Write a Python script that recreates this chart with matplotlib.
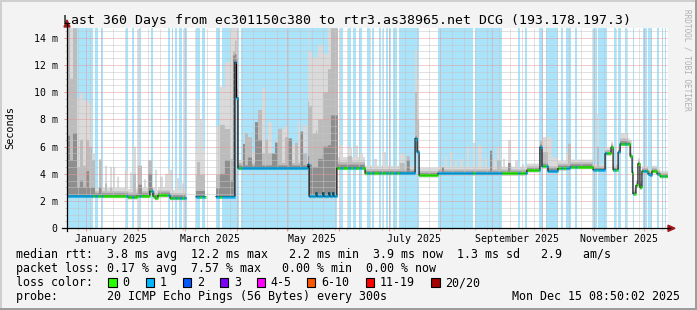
import datetime as dt
import numpy as np
import matplotlib
matplotlib.use("Agg")
import matplotlib.pyplot as plt
from matplotlib.collections import LineCollection
from matplotlib.lines import Line2D
from matplotlib.patches import Rectangle, Polygon
from matplotlib import transforms as mtrans

W, H, DPI = 697, 310, 100
MONO = "DejaVu Sans Mono"

# ---------------- data ----------------
end_time = dt.datetime(2025, 12, 15, 8, 50, 2)
span_days = 360
start_time = end_time - dt.timedelta(days=span_days)

# median rtt (ms) as a step series: day offset from start -> value (nan = no data)
median_day = [0.0, 36.5, 42.0, 49.7, 51.5, 52.7, 54.5, 61.7, 71.3, 77.3, 83.0, 89.3,
              100.6, 101.5, 102.4, 144.4, 145.0, 149.2, 149.8, 153.3, 153.9, 156.9,
              157.5, 159.3, 159.9, 161.7, 178.5, 208.5, 209.7, 210.9, 222.2, 275.5,
              283.3, 284.5, 288.1, 294.1, 301.3, 315.1, 322.3, 325.9, 327.1, 330.1,
              331.3, 337.3, 338.5, 339.0, 340.8, 342.0, 343.2, 344.4, 348.0, 349.2,
              350.4, 353.4, 355.2]
median_ms = [2.37, 2.28, 2.37, 2.72, 2.36, 2.22, 2.42, 2.22, np.nan, 2.32, np.nan, 2.33,
             12.2, 9.6, 4.42, 4.7, 2.35, 2.62, 2.35, 2.62, 2.35, 2.62,
             2.35, 2.62, 2.35, 4.43, 4.05, 6.6, 5.6, 3.9, 4.03, 4.26,
             5.96, 4.55, 4.2, 4.4, 4.5, 4.3, 5.5, 5.96, 4.3, 5.6,
             6.2, 5.3, 4.1, 2.55, 3.15, 4.75, 3.0, 4.2, 4.0, 3.9,
             4.2, 4.0, 3.83]

# periods with one lost packet (loss shown as background)
loss_start = [0.0, 16.5, 20.1, 35.3, 38.9, 43.1, 50.3, 60.5, 62.6, 64.7, 66.8, 70.1,
              77.3, 80.9, 89.3, 93.1, 104.5, 163.5, 168.3, 171.6, 174.9, 179.7, 182.4,
              186.6, 189.0, 190.8, 192.6, 195.0, 198.6, 222.5, 244.4, 270.2, 274.4,
              283.0, 287.2, 295.9, 298.9, 304.3, 315.1, 318.3, 327.7, 330.2, 334.2,
              338.9, 345.2, 348.2, 353.3, 356.3, 358.0]
loss_end = [15.6, 18.3, 21.6, 36.8, 40.1, 44.6, 51.8, 61.7, 63.5, 65.9, 68.6, 71.6,
            79.7, 82.7, 91.6, 103.0, 161.7, 165.3, 170.1, 173.1, 177.0, 181.2, 183.6,
            187.8, 189.9, 192.0, 194.1, 197.4, 210.6, 243.2, 260.6, 271.4, 275.6,
            285.4, 294.4, 297.4, 301.9, 305.5, 317.3, 323.2, 328.9, 331.8, 335.4,
            339.9, 347.3, 350.7, 354.6, 357.2, 358.9]

# typical smoke spread above the median (ms) per period
smoke_day = [0.0, 16.8, 77.3, 89.3, 102.4, 144.4, 162.3, 178.5, 222.2, 283.3, 315.1]
smoke_light_off = [0.8, 0.6, 3.4, 5.2, 0.6, 10.2, 0.8, 0.55, 0.5, 0.55, 0.4]
smoke_mid_off = [0.5, 0.35, 1.6, 1.6, 0.4, 4.6, 0.45, 0.3, 0.3, 0.35, 0.25]
smoke_dark_off = [0.3, 0.2, 0.4, 0.6, 0.2, 0.6, 0.25, 0.15, 0.15, 0.2, 0.12]

# smoke spikes: (start day, end day, light top, mid top, dark top) in ms
smoke_spikes = [
    (0.0, 1.8, 14.7, 14.7, 6.8), (1.8, 3.6, 14.7, 11.0, 5.0), (3.6, 6.0, 14.7, 14.7, 7.0),
    (6.0, 7.8, 9.6, 4.5, 3.0), (7.8, 9.6, 9.9, 6.5, 3.5), (9.6, 11.4, 9.4, 4.6, 3.0),
    (11.4, 13.2, 9.4, 6.5, 4.2), (13.2, 15.0, 9.2, 6.0, 3.0), (15.0, 16.8, 5.5, 5.0, 3.0),
    (19.2, 21.0, 5.1, 5.0, 3.0), (22.8, 24.0, 4.6, 3.3, 0), (25.8, 27.0, 4.5, 3.0, 0),
    (27.6, 28.8, 4.5, 0, 0), (30.0, 31.2, 3.8, 0, 0), (34.7, 36.5, 4.3, 0, 0),
    (37.7, 38.9, 4.1, 0, 0), (39.5, 41.3, 6.0, 4.0, 0), (42.5, 44.9, 4.6, 4.6, 3.2),
    (46.1, 47.3, 3.6, 0, 0), (48.5, 50.9, 5.0, 5.0, 4.0), (52.7, 53.9, 4.3, 0, 0),
    (55.7, 57.5, 3.8, 0, 0), (58.7, 60.5, 4.0, 0, 0), (60.5, 62.9, 4.3, 0, 0),
    (65.3, 67.1, 3.7, 0, 0), (68.3, 70.1, 3.3, 0, 0),
    (77.9, 79.7, 9.4, 4.9, 0), (79.7, 81.5, 8.0, 0, 0),
    (91.6, 94.6, 10.4, 7.6, 4.0), (94.6, 97.6, 12.2, 7.3, 5.0), (97.6, 99.4, 14.7, 5.1, 3.5),
    (99.4, 100.6, 14.7, 13.0, 12.7), (100.6, 102.4, 14.7, 12.5, 8.0),
    (105.4, 106.6, 6.2, 6.2, 6.2), (106.6, 108.4, 7.0, 7.0, 0), (108.4, 110.8, 6.7, 6.7, 5.2),
    (110.8, 112.6, 5.6, 0, 0), (112.6, 114.4, 7.8, 7.8, 7.8), (114.4, 116.8, 8.7, 8.7, 6.5),
    (116.8, 118.6, 10.3, 5.5, 0), (118.6, 120.4, 6.5, 6.5, 0), (120.4, 122.8, 7.8, 5.5, 0),
    (122.8, 124.6, 5.5, 5.5, 5.5), (124.6, 126.4, 6.5, 6.3, 6.3), (126.4, 128.8, 7.3, 7.3, 0),
    (128.8, 130.6, 7.3, 0, 0), (130.6, 132.4, 7.5, 6.7, 0), (132.4, 134.8, 6.6, 6.6, 6.6),
    (134.8, 136.6, 6.1, 0, 0), (136.6, 138.4, 6.3, 6.3, 0), (138.4, 139.6, 7.8, 0, 0),
    (139.6, 141.4, 7.1, 7.1, 7.1), (141.4, 143.8, 7.6, 5.5, 0),
    (144.4, 146.8, 13.0, 9.0, 4.7), (146.8, 150.4, 12.0, 6.0, 4.5), (150.4, 153.3, 13.5, 8.0, 5.1),
    (153.3, 156.3, 12.8, 10.0, 6.0), (156.3, 158.1, 14.7, 11.7, 6.1), (158.1, 159.9, 14.7, 14.7, 8.3),
    (159.9, 162.3, 14.7, 14.7, 8.3),
    (163.5, 165.3, 6.1, 0, 0), (168.3, 170.7, 5.9, 5.3, 0), (172.5, 174.3, 6.1, 0, 0),
    (175.5, 177.3, 5.5, 0, 0),
    (183.9, 185.7, 5.1, 0, 0), (189.3, 191.1, 5.6, 0, 0), (199.3, 202.3, 5.5, 4.8, 0),
    (203.5, 205.3, 5.3, 5.3, 5.0), (208.5, 209.7, 13.1, 10.0, 6.6), (209.7, 210.9, 11.0, 8.0, 5.5),
    (224.6, 225.8, 4.6, 4.5, 4.5), (226.4, 227.6, 5.3, 0, 0), (229.4, 231.2, 5.6, 0, 0),
    (232.4, 233.6, 5.0, 0, 0), (235.4, 237.2, 5.1, 0, 0), (239.6, 240.8, 6.0, 0, 0),
    (243.2, 244.4, 6.3, 0, 0), (246.2, 248.6, 6.1, 0, 0), (250.4, 251.6, 5.2, 0, 0),
    (253.4, 254.6, 5.7, 5.7, 5.7), (255.8, 257.0, 5.1, 0, 0), (257.6, 260.0, 6.0, 5.0, 0),
    (261.2, 262.4, 5.1, 0, 0), (264.2, 266.0, 6.5, 4.8, 4.8), (268.4, 270.2, 5.0, 0, 0),
    (272.6, 273.8, 4.7, 0, 0), (277.6, 279.4, 4.7, 0, 0),
    (283.3, 284.5, 6.5, 6.45, 6.0), (284.5, 288.1, 6.7, 5.6, 0), (288.1, 290.5, 6.7, 0, 0),
    (290.5, 294.1, 5.2, 0, 0), (298.9, 300.1, 5.5, 0, 0), (300.1, 301.9, 6.2, 6.2, 0),
    (317.5, 318.7, 8.4, 6.0, 0), (322.3, 325.9, 5.9, 0, 0), (325.9, 327.1, 6.3, 6.0, 0),
    (330.1, 331.3, 5.9, 0, 0), (331.3, 336.1, 7.0, 6.6, 6.4), (336.1, 338.5, 6.5, 0, 0),
    (342.0, 343.2, 5.0, 4.9, 0),
]

y_ticks = [0, 2, 4, 6, 8, 10, 12, 14]
y_tick_labels = ["0", "2 m", "4 m", "6 m", "8 m", "10 m", "12 m", "14 m"]
y_top = 14.7

month_label_text = ["January 2025", "March 2025", "May 2025", "July 2025",
                    "September 2025", "November 2025"]
month_label_dates = [dt.datetime(2025, 1, 16), dt.datetime(2025, 3, 16), dt.datetime(2025, 5, 16),
                     dt.datetime(2025, 7, 16), dt.datetime(2025, 9, 16), dt.datetime(2025, 11, 16)]

loss_legend_labels = ["0", "1", "2", "3", "4-5", "6-10", "11-19", "20/20"]
loss_legend_colors = ["#26ff00", "#00b8ff", "#0059ff", "#7e00ff", "#ff00ff", "#ff5500",
                      "#ff0000", "#a10000"]

title = "Last 360 Days from ec301150c380 to rtr3.as38965.net DCG (193.178.197.3)"
row_rtt = "median rtt:  3.8 ms avg  12.2 ms max   2.2 ms min  3.9 ms now  1.3 ms sd   2.9   am/s"
row_loss = "packet loss: 0.17 % avg  7.57 % max   0.00 % min  0.00 % now"
row_color = "loss color:"
row_probe = "probe:       20 ICMP Echo Pings (56 Bytes) every 300s"
stamp = "Mon Dec 15 08:50:02 2025"

# ---------------- styling ----------------
BG = "#f3f3f3"
BAND = "#a9e4fb"
C_LIGHT, C_MID, C_DARK = "#dadada", "#bcbcbc", "#8e8e8e"
GRID = "#c4c4c4"
MGRID = "#e39a9a"
ARROW = "#a01818"


def days_of(d):
    return (d - start_time).total_seconds() / 86400.0


def step_eval(xs, ys, t):
    idx = np.searchsorted(np.asarray(xs), t, side="right") - 1
    return np.asarray(ys, float)[np.clip(idx, 0, None)]


def px(x, y):
    return x / W, 1 - y / H


fig = plt.figure(figsize=(W / DPI, H / DPI), dpi=DPI, facecolor=BG)
ax = fig.add_axes([67 / W, (H - 228.3) / H, 601 / W, 200 / H])
ax.set_facecolor("white")
ax.set_xlim(0, span_days)
ax.set_ylim(0, y_top)
for s in ax.spines.values():
    s.set_visible(False)

# loss background bands
for s, e in zip(loss_start, loss_end):
    ax.axvspan(s, e, color=BAND, lw=0, zorder=0.5)

# evaluation grid
dt_step = 0.1
t = np.arange(0, span_days, dt_step)
tc = t + dt_step / 2
med = step_eval(median_day, median_ms, tc)
light = med + step_eval(smoke_day, smoke_light_off, tc)
mid = med + step_eval(smoke_day, smoke_mid_off, tc)
dark = med + step_eval(smoke_day, smoke_dark_off, tc)
for s, e, lt, mt, dk in smoke_spikes:
    sel = (tc >= s) & (tc < e)
    light[sel] = np.maximum(light[sel], lt)
    mid[sel] = np.maximum(mid[sel], mt)
    dark[sel] = np.maximum(dark[sel], dk)
lo = med - 0.15

tt = np.append(t, span_days)


def ext(a):
    return np.append(a, a[-1])


ax.fill_between(tt, ext(lo), ext(light), step="post", color=C_LIGHT, lw=0, zorder=1)
ax.fill_between(tt, ext(lo), ext(mid), step="post", color=C_MID, lw=0, zorder=1.1)
ax.fill_between(tt, ext(med - 0.1), ext(dark), step="post", color=C_DARK, lw=0, zorder=1.2)

# median line: black steps + loss coloured segments
ax.plot(tt, ext(med), drawstyle="steps-post", color="black", lw=0.8, zorder=3)
inband = np.zeros_like(tc, dtype=bool)
for s, e in zip(loss_start, loss_end):
    inband |= (tc >= s) & (tc < e)
valid = ~np.isnan(med)
segs = np.stack([np.column_stack([t, med]), np.column_stack([t + dt_step, med])], axis=1)[valid]
cols = np.where(inband, loss_legend_colors[1], loss_legend_colors[0])[valid]
ax.add_collection(LineCollection(segs, colors=cols, linewidths=2.0, capstyle="butt", zorder=4))

# grid: months (major), every 7 days from the start day (minor)
month_starts = []
d = dt.datetime(start_time.year, start_time.month, 1)
while d <= end_time:
    if d > start_time:
        month_starts.append(days_of(d))
    d = dt.datetime(d.year + (d.month == 12), d.month % 12 + 1, 1)
weeks = []
d = dt.datetime(start_time.year, start_time.month, start_time.day) + dt.timedelta(days=7)
while d <= end_time:
    weeks.append(days_of(d))
    d += dt.timedelta(days=7)

ax.set_xticks(month_starts)
ax.set_xticks(weeks, minor=True)
ax.set_yticks(y_ticks)
ax.set_yticks(np.arange(0, y_top, 0.5), minor=True)
ax.set_axisbelow(False)
dot = (0, (1, 1))
ax.grid(which="minor", color=GRID, linestyle=dot, lw=0.72)
ax.grid(which="major", color=MGRID, linestyle=dot, lw=0.72)
ax.set_xticklabels([])
ax.set_yticklabels(y_tick_labels, family=MONO, fontsize=7.14)
ax.tick_params(axis="x", which="major", length=2.2, width=0.72, color=MGRID, direction="out")
ax.tick_params(axis="x", which="minor", length=1.5, width=0.72, color=GRID, direction="out")
ax.tick_params(axis="y", which="major", length=2.2, width=0.72, color=MGRID, direction="out", pad=4.6)
ax.tick_params(axis="y", which="minor", length=1.5, width=0.72, color=GRID, direction="out")

lab_tr = mtrans.offset_copy(mtrans.blended_transform_factory(ax.transData, ax.transAxes),
                            fig=fig, x=0, y=-13.2, units="dots")
for txt, dd in zip(month_label_text, month_label_dates):
    ax.text(days_of(dd), 0, txt, transform=lab_tr, ha="center", va="baseline",
            family=MONO, fontsize=7.14)

# axes lines and arrows
fig.add_artist(Line2D(*zip(px(67, 231), px(67, 24)), color="black", lw=0.9, transform=fig.transFigure))
fig.add_artist(Line2D(*zip(px(62, 228.3), px(670, 228.3)), color="black", lw=0.9, transform=fig.transFigure))
fig.add_artist(Polygon([px(67, 20), px(64, 27), px(70, 27)], closed=True, color=ARROW,
                       transform=fig.transFigure))
fig.add_artist(Polygon([px(675, 228.3), px(668, 225.2), px(668, 231.4)], closed=True, color=ARROW,
                       transform=fig.transFigure))

# frame
for (x0, y0, w, h, c) in [(0, 0, W, 2, "#cfcfcf"), (0, 0, 2, H, "#cfcfcf"),
                          (0, H - 2, W, 2, "#9d9d9d"), (W - 2, 0, 2, H, "#9d9d9d")]:
    fig.add_artist(Rectangle(px(x0, y0 + h), w / W, h / H, color=c, lw=0, transform=fig.transFigure))

# texts
fig.text(*px(W / 2 - 1.5, 23.7), title, ha="center", va="baseline", family=MONO, fontsize=9.52)
fig.text(*px(10.5, 128), "Seconds", rotation=90, ha="center", va="center", family=MONO, fontsize=7.4)
fig.text(*px(687, 60), "RRDTOOL / TOBI OETIKER", rotation=270, ha="center", va="center",
         family=MONO, fontsize=5.6, color="#b0b0b0")

LEG = 8.34
fig.text(*px(15.5, 258.3), row_rtt, ha="left", va="baseline", family=MONO, fontsize=LEG)
fig.text(*px(15.5, 272.3), row_loss, ha="left", va="baseline", family=MONO, fontsize=LEG)
fig.text(*px(15.5, 286.3), row_color, ha="left", va="baseline", family=MONO, fontsize=LEG)
fig.text(*px(15.5, 300.3), row_probe, ha="left", va="baseline", family=MONO, fontsize=LEG)
fig.text(*px(680.5, 300.3), stamp, ha="right", va="baseline", family=MONO, fontsize=LEG)

sq_x = [108, 145.5, 182.5, 219.5, 256.5, 306.5, 365.5, 431]
lab_x = [122.3, 160, 197, 234, 270, 321, 380, 445]
for sx, lx, lab, col in zip(sq_x, lab_x, loss_legend_labels, loss_legend_colors):
    fig.add_artist(Rectangle(px(sx, 286.7), 8.5 / W, 8.5 / H, facecolor=col, edgecolor="black",
                             lw=0.8, transform=fig.transFigure))
    fig.text(*px(lx, 286.3), lab, ha="left", va="baseline", family=MONO, fontsize=LEG)

fig.savefig("out.png", dpi=DPI, facecolor=BG)
